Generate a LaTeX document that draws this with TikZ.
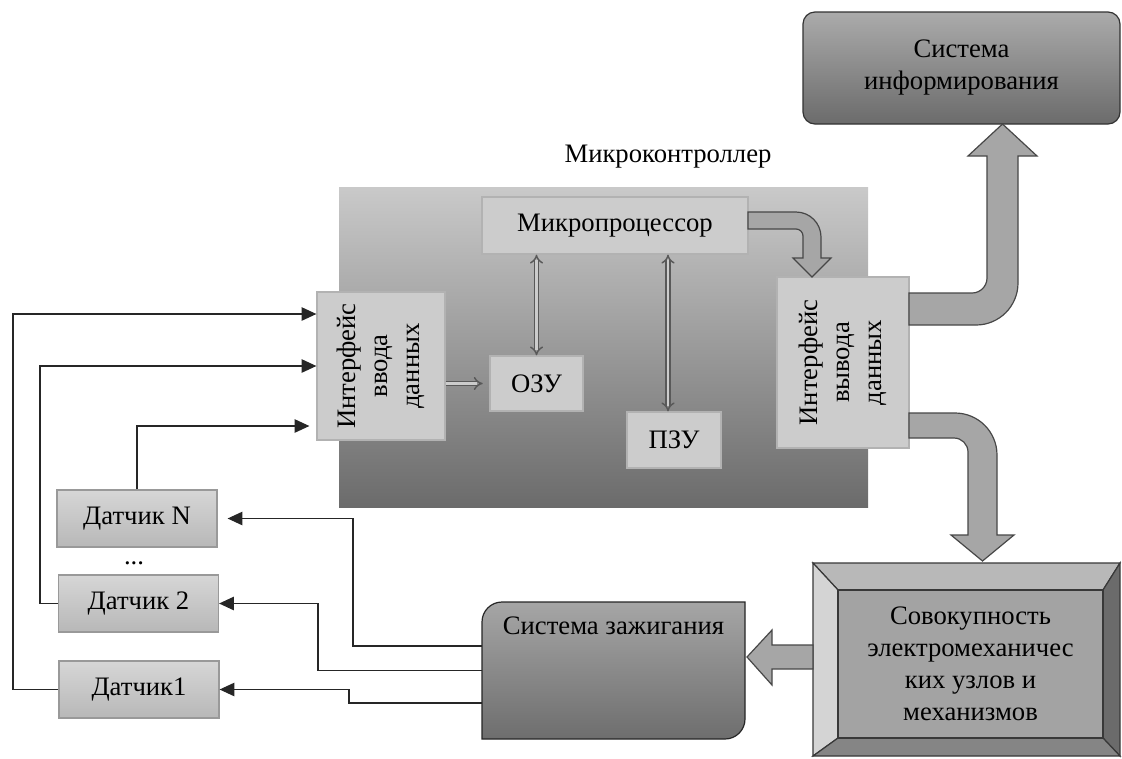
\documentclass[tikz,border=0pt]{standalone}
\usepackage{fontspec}
\setmainfont{Liberation Serif}
\usetikzlibrary{arrows.meta,shadings}

\tikzset{
  texto/.style={font=\fontsize{20}{24}\selectfont},
  bloco/.style={texto, draw=black!30, fill=black!20, line width=0.9pt, inner sep=0pt},
  sensor/.style={texto, draw=black!40, top color=black!16, bottom color=black!28, line width=0.9pt, inner sep=0pt, minimum width=160*0.75pt, minimum height=57*0.75pt},
  sinal/.style={line width=0.9pt, draw=black!85, -{Triangle[length=11pt,width=10pt]}},
  duplo/.style={draw=black!65, double=black!20, double distance=2.2pt, line width=1.1pt, {Implies}-{Implies}},
  largo/.style={draw=black!72, fill=black!35, line width=0.9pt, line join=miter},
  moldura/.style={draw=black!78, line width=0.9pt, line join=miter}
}

\begin{document}
\begin{tikzpicture}[x=0.75pt,y=-0.75pt]
        \useasboundingbox (0,0) rectangle (1122,758);

        % Microcontrolador
        \node[inner sep=0pt, top color=black!21, bottom color=black!58, minimum width=529*0.75pt, minimum height=320*0.75pt] (mc) at (603.5,347) {};
        \node[texto] (mclabel) at (668,157) {Микроконтроллер};

        % Blocos internos
        \node[bloco, minimum width=266*0.75pt, minimum height=57*0.75pt] (mp) at (615,225.5) {Микропроцессор};
        \node[bloco, minimum width=93*0.75pt, minimum height=55*0.75pt] (ram) at (536.5,383.5) {ОЗУ};
        \node[bloco, minimum width=94*0.75pt, minimum height=56*0.75pt] (rom) at (674,440) {ПЗУ};
        \node[bloco, minimum width=128*0.75pt, minimum height=148*0.75pt] (ini) at (381,366)
            {\rotatebox{90}{\begin{tabular}{@{}c@{}}Интерфейс\\ввода\\данных\end{tabular}}};
        \node[bloco, minimum width=132*0.75pt, minimum height=171*0.75pt] (outi) at (843,362.5)
            {\rotatebox{90}{\begin{tabular}{@{}c@{}}Интерфейс\\вывода\\данных\end{tabular}}};

        % Barramentos internos
        \draw[duplo] (ram.north) -- (ram.north |- mp.south);
        \draw[duplo] ([xshift=-4.5pt]rom.north) -- ([xshift=-4.5pt]rom.north |- mp.south);
        \draw[duplo, -{Implies}, shorten >=5pt] (ini.east |- ram.west) -- (ram.west);

        % Sistema de informacao
        \node[texto, align=center, draw=black!80, rounded corners=9pt, top color=black!33, bottom color=black!58, line width=0.9pt, minimum width=317*0.75pt, minimum height=112*0.75pt] (info) at (961.5,68) {Система\\информирования};

        % Conjunto de mecanismos (moldura chanfrada)
        \draw[moldura, fill=black!28] (813,563) -- (1120,563) -- (1103,590) -- (838,590) -- cycle;
        \draw[moldura, fill=black!17] (813,563) -- (838,590) -- (838,738) -- (813,756) -- cycle;
        \draw[moldura, fill=black!58] (1120,563) -- (1120,756) -- (1103,738) -- (1103,590) -- cycle;
        \draw[moldura, fill=black!48] (813,756) -- (1120,756) -- (1103,738) -- (838,738) -- cycle;
        \node[texto, align=center, draw=black!78, fill=black!36, line width=0.9pt, minimum width=265*0.75pt, minimum height=148*0.75pt] (mech) at (970.5,664)
            {Совокупность\\электромеханичес\\ких узлов и\\механизмов};

        % Sistema de ignicao
        \path[draw=black!85, line width=0.9pt, top color=black!35, bottom color=black!57] (482,739) -- (482,622) arc[start angle=180,end angle=270,radius=20] -- (745,602) -- (745,719) arc[start angle=0,end angle=90,radius=20] -- cycle;
        \node[inner sep=0pt, minimum width=263*0.75pt, minimum height=137*0.75pt, label={[texto,anchor=north,yshift=-7.5pt]north:Система зажигания}] (ign) at (613.5,670.5) {};

        % Setas largas
        \draw[largo] (748,212) -- (796,212) arc[start angle=-90,end angle=0,radius=25] -- (821,258) -- (831,258) -- (812,277) -- (793,258) -- (803,258) -- (803,236) arc[start angle=0,end angle=-90,radius=7] -- (748,229) -- cycle;
        \draw[largo] (909,293) -- (972,293) arc[start angle=90,end angle=0,radius=15] -- (987,156) -- (968,156) -- (1002.5,124) -- (1037,156) -- (1018,156) -- (1018,283) arc[start angle=0,end angle=90,radius=42] -- (909,325) -- cycle;
        \draw[largo] (909,413) -- (955,413) arc[start angle=-90,end angle=0,radius=42] -- (997,535) -- (1014,535) -- (982.5,561) -- (951,535) -- (968,535) -- (968,452) arc[start angle=0,end angle=-90,radius=14] -- (909,438) -- cycle;
        \draw[largo] (813,645) -- (772,645) -- (772,630) -- (747,657) -- (772,685) -- (772,669) -- (813,669) -- cycle;

        % Sensores
        \node[sensor] (sN) at (137,518.5) {Датчик N};
        \node[texto] (pontos) at (134,563) {...};
        \node[sensor] (s2) at (138.5,603.5) {Датчик 2};
        \node[sensor] (s1) at (139,689.5) {Датчик1};

        % Sinais: ignicao -> sensores
        \draw[sinal] ([yshift=18.4pt]ign.west) -| (353,518.5) -- ([xshift=7.5pt]sN.east);
        \draw[sinal] (ign.west) -| (318,603.5) -- (s2.east);
        \draw[sinal] ([yshift=-24.4pt]ign.west) -| (349,689.5) -- (s1.east);

        % Sinais: sensores -> interface de entrada
        \draw[sinal] (s1.west) -| (13,314) -- ([yshift=39pt]ini.west);
        \draw[sinal] (s2.west) -| (40,366) -- (ini.west);
        \draw[sinal] (sN.north) |- ([xshift=-5.25pt,yshift=-45pt]ini.west);
    \end{tikzpicture}
\end{document}
